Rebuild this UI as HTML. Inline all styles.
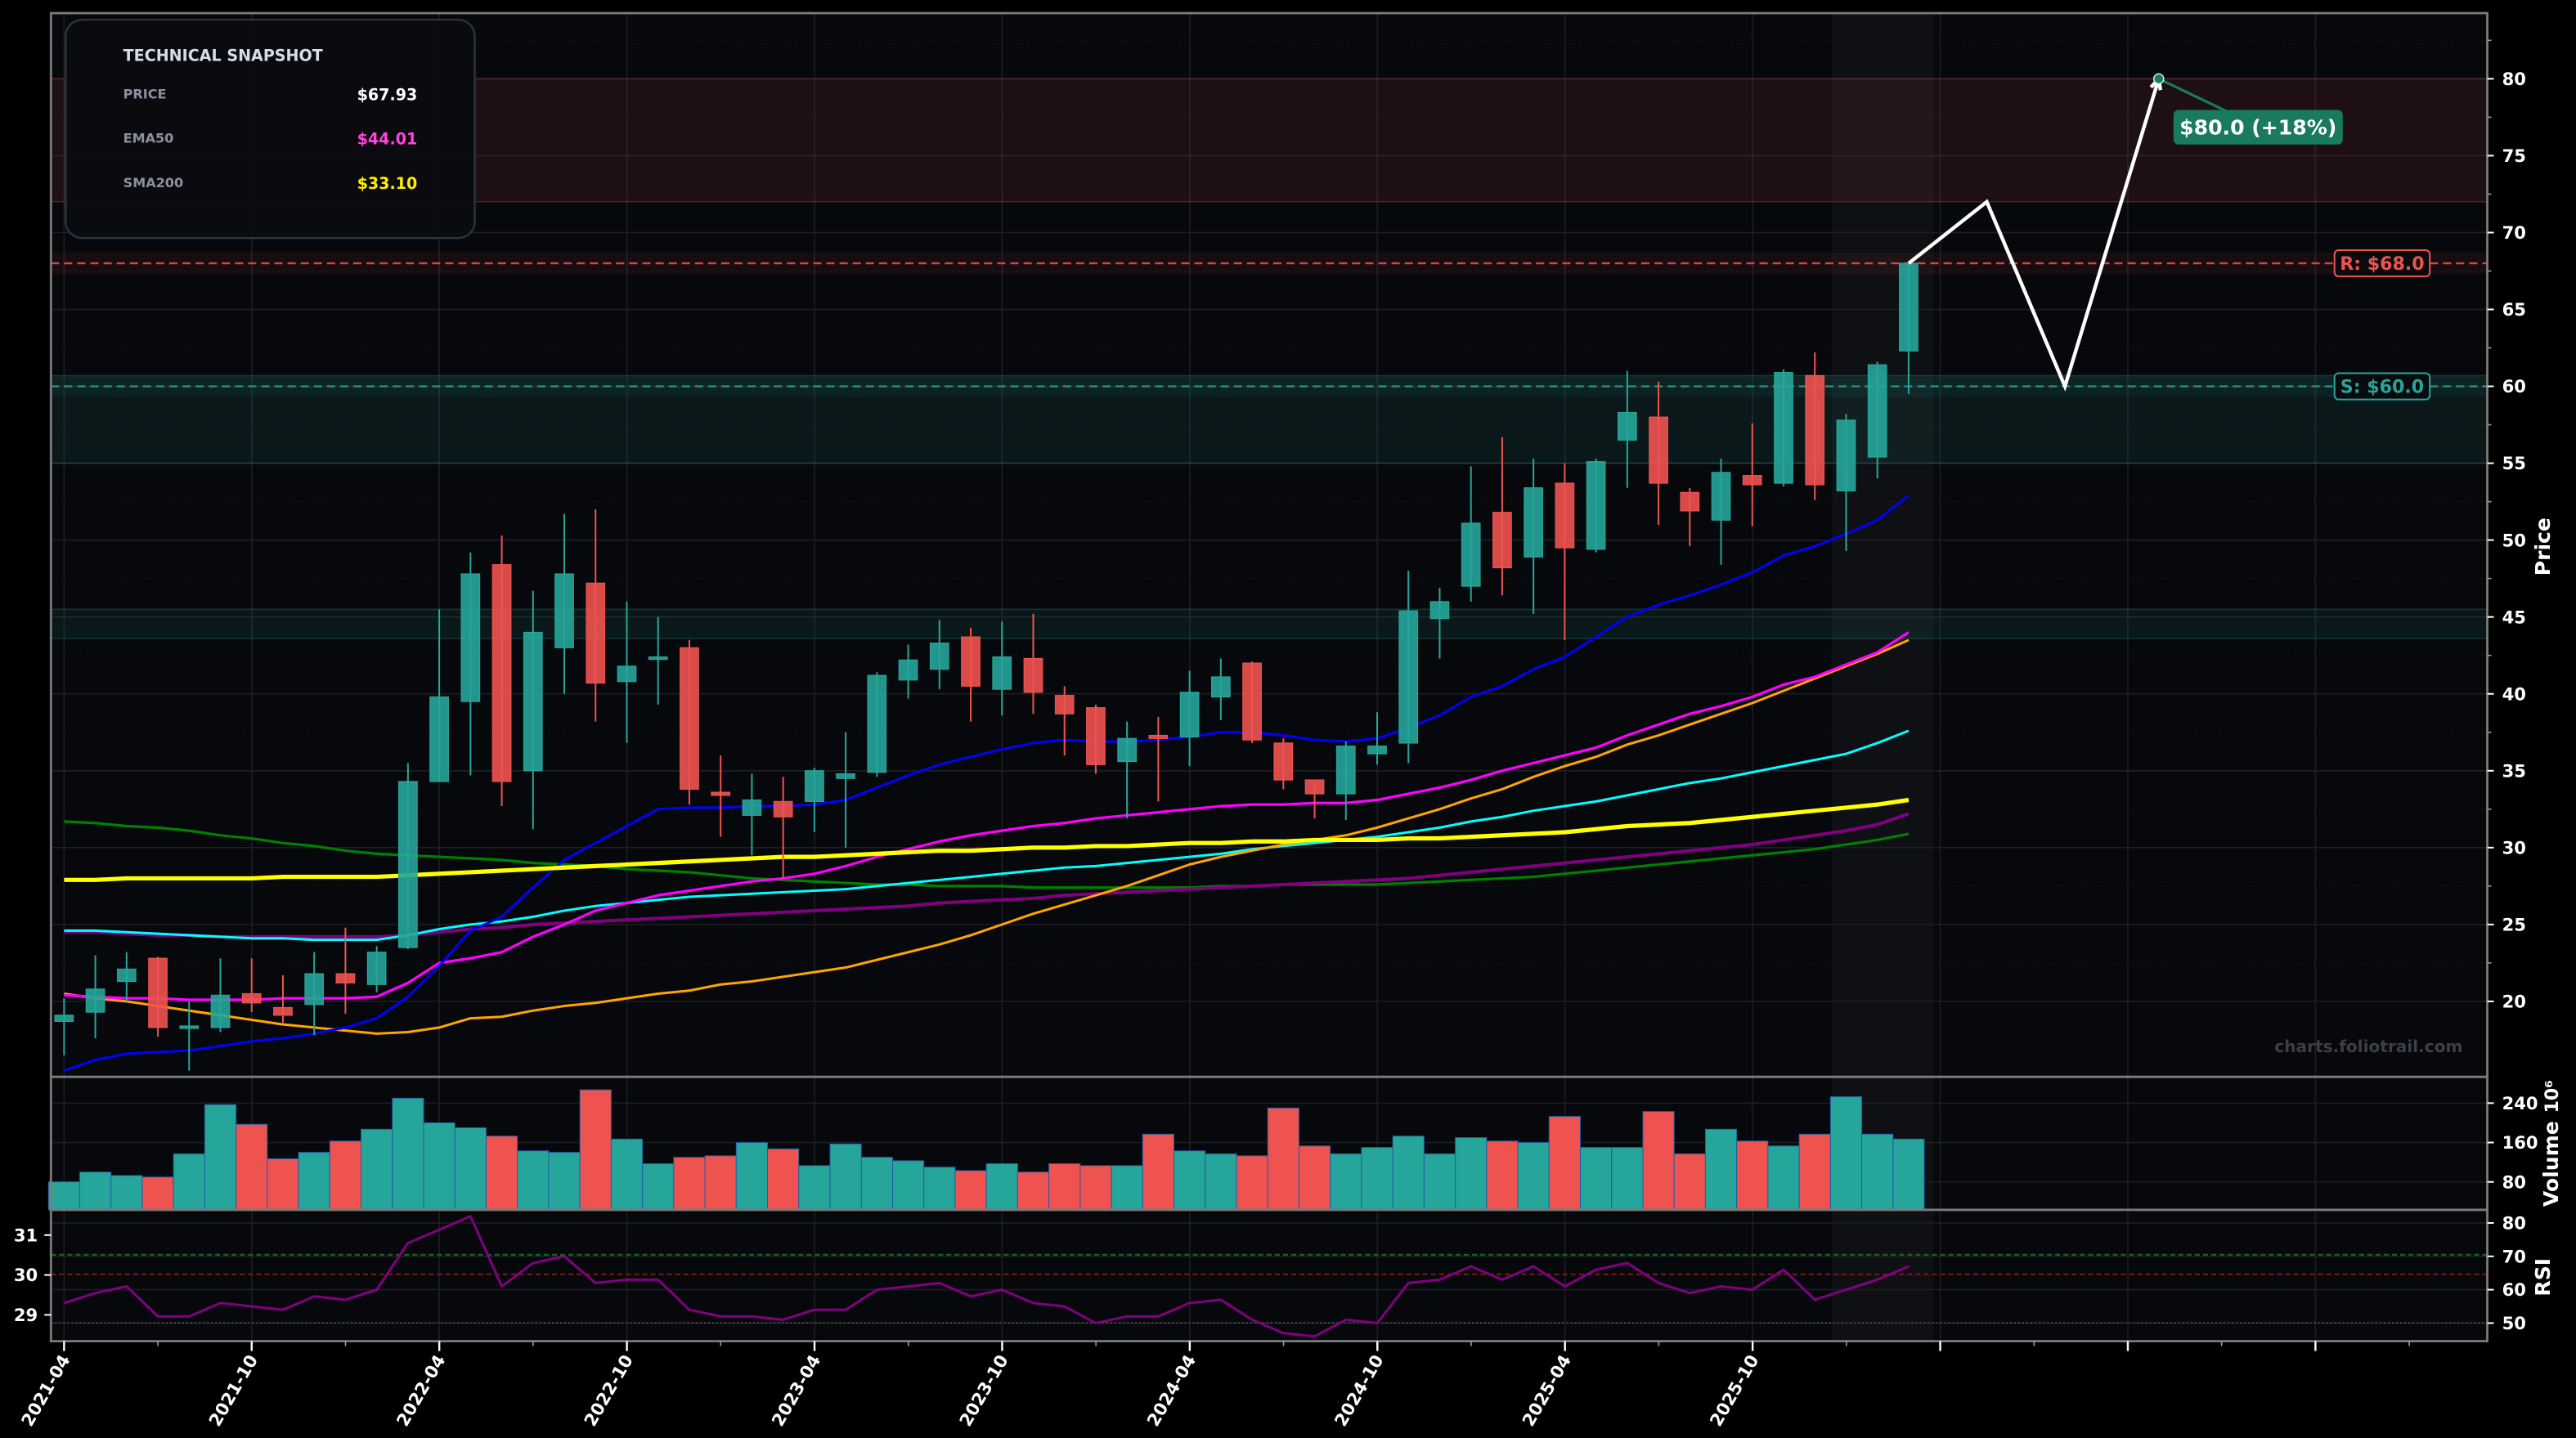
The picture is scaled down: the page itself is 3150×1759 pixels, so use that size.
<!DOCTYPE html>
<html><head><meta charset="utf-8"><title>Technical chart</title>
<style>
html,body{margin:0;padding:0;background:#000;}
svg{display:block;font-family:"DejaVu Sans","Liberation Sans",sans-serif;}
</style></head>
<body>
<svg id="chart" width="3150" height="1759" viewBox="0 0 1568 876" preserveAspectRatio="none" xmlns="http://www.w3.org/2000/svg">
<rect x="0" y="0" width="1568" height="876" fill="#000"/>
<g id="g-bg"></g>
<g id="g-grid"></g>
<g id="g-zones"></g>
<g id="g-ma"></g>
<g id="g-candles"></g>
<g id="g-vol"></g>
<g id="g-rsi"></g>
<g id="g-axes"></g>
<g id="g-over"></g>
</svg>
<script>
const dates = ["2021-04","2021-10","2022-04","2022-10","2023-04","2023-10","2024-04","2024-10","2025-04","2025-10"];
const priceTicks = [20,25,30,35,40,45,50,55,60,65,70,75,80];
const volTicks = [80,160,240];
const rsiTicks = [50,60,70,80];
const rsiLeftTicks = [29,30,31];
const opens  = [18.7,19.3,21.3,22.8,18.3,18.3,20.5,19.6,19.8,21.8,21.1,23.5,34.3,39.5,48.4,35.0,43.0,47.2,40.8,42.3,43.0,33.6,32.1,33.0,33.0,34.5,34.9,40.9,41.6,43.7,40.3,42.3,39.9,39.1,35.6,37.3,37.2,39.8,42.0,36.8,34.4,33.5,36.1,36.8,44.9,47.0,51.8,48.9,53.7,49.4,56.5,58.0,53.1,51.3,54.2,53.7,60.7,53.2,55.4,62.3];
const closes = [19.1,20.8,22.1,18.3,18.4,20.4,19.9,19.1,21.8,21.2,23.2,34.3,39.8,47.8,34.3,44.0,47.8,40.7,41.8,42.4,33.8,33.4,33.1,32.0,35.0,34.8,41.2,42.2,43.3,40.5,42.4,40.1,38.7,35.4,37.1,37.1,40.1,41.1,37.0,34.4,33.5,36.6,36.6,45.4,46.0,51.1,48.2,53.4,49.5,55.1,58.3,53.7,51.9,54.4,53.6,60.9,53.6,57.8,61.4,68.0];
const highs  = [20.2,23.0,23.2,22.9,20.0,22.8,22.8,21.7,23.2,24.8,23.6,35.5,45.5,49.2,50.3,46.7,51.7,52.0,46.0,45.0,43.5,36.0,34.8,34.6,35.2,37.5,41.4,43.2,44.8,44.3,44.7,45.2,40.5,39.3,38.2,38.5,41.5,42.3,42.1,37.1,34.4,36.9,38.8,48.0,46.9,54.8,56.7,55.3,55.0,55.3,61.0,60.3,53.4,55.3,57.6,61.1,62.2,58.2,61.6,68.0];
const lows   = [16.5,17.6,20.0,17.7,15.5,18.0,19.3,18.6,17.8,19.2,20.6,23.4,34.3,34.7,32.7,31.2,40.0,38.2,36.8,39.3,32.8,30.7,29.5,28.0,31.0,30.0,34.6,39.7,40.3,38.2,38.6,38.7,36.0,34.8,31.9,33.0,35.3,38.3,36.8,33.8,31.9,31.8,35.4,35.5,42.3,46.0,46.4,45.2,43.5,49.2,53.4,51.0,49.6,48.4,50.9,53.5,52.6,49.3,54.0,59.5];
const volumes = [80,100,93,90,137,237,197,127,140,163,187,250,200,190,173,143,140,267,167,117,130,133,160,147,113,157,130,123,110,103,117,100,117,113,113,177,143,137,133,230,153,137,150,173,137,170,163,160,213,150,150,223,137,187,163,153,177,253,177,167];
const rsiValues = [56,59,61,52,52,56,55,54,58,57,60,74,78,82,61,68,70,62,63,63,54,52,52,51,54,54,60,61,62,58,60,56,55,50,52,52,56,57,51,47,46,51,50,62,63,67,63,67,61,66,68,62,59,61,60,66,57,60,63,67];
const maBlue    = [15.5,16.2,16.6,16.7,16.8,17.1,17.4,17.6,17.9,18.3,18.9,20.3,22.3,24.6,25.5,27.4,29.2,30.3,31.4,32.5,32.6,32.6,32.7,32.7,32.8,33.1,33.9,34.7,35.4,35.9,36.4,36.8,37.0,36.9,36.9,37.0,37.2,37.5,37.5,37.3,37.0,36.9,37.1,37.8,38.6,39.8,40.5,41.6,42.4,43.7,45.0,45.8,46.4,47.1,47.9,49.0,49.6,50.4,51.3,52.9];
const maMagenta = [20.4,20.3,20.2,20.2,20.1,20.1,20.1,20.2,20.2,20.2,20.3,21.2,22.5,22.8,23.2,24.2,25.0,25.9,26.4,26.9,27.2,27.5,27.8,28.0,28.3,28.8,29.4,29.9,30.4,30.8,31.1,31.4,31.6,31.9,32.1,32.3,32.5,32.7,32.8,32.8,32.9,32.9,33.1,33.5,33.9,34.4,35.0,35.5,36.0,36.5,37.3,38.0,38.7,39.2,39.8,40.6,41.1,41.9,42.7,44.0];
const maOrange  = [20.5,20.2,20.0,19.7,19.4,19.1,18.8,18.5,18.3,18.1,17.9,18.0,18.3,18.9,19.0,19.4,19.7,19.9,20.2,20.5,20.7,21.1,21.3,21.6,21.9,22.2,22.7,23.2,23.7,24.3,25.0,25.7,26.3,26.9,27.5,28.2,28.9,29.4,29.8,30.2,30.5,30.8,31.3,31.9,32.5,33.2,33.8,34.6,35.3,35.9,36.7,37.3,38.0,38.7,39.4,40.2,41.0,41.8,42.6,43.5];
const maCyan    = [24.6,24.6,24.5,24.4,24.3,24.2,24.1,24.1,24.0,24.0,24.0,24.3,24.7,25.0,25.2,25.5,25.9,26.2,26.4,26.6,26.8,26.9,27.0,27.1,27.2,27.3,27.5,27.7,27.9,28.1,28.3,28.5,28.7,28.8,29.0,29.2,29.4,29.6,29.9,30.1,30.3,30.5,30.7,31.0,31.3,31.7,32.0,32.4,32.7,33.0,33.4,33.8,34.2,34.5,34.9,35.3,35.7,36.1,36.8,37.6];
const maYellow  = [27.9,27.9,28.0,28.0,28.0,28.0,28.0,28.1,28.1,28.1,28.1,28.2,28.3,28.4,28.5,28.6,28.7,28.8,28.9,29.0,29.1,29.2,29.3,29.4,29.4,29.5,29.6,29.7,29.8,29.8,29.9,30.0,30.0,30.1,30.1,30.2,30.3,30.3,30.4,30.4,30.5,30.5,30.5,30.6,30.6,30.7,30.8,30.9,31.0,31.2,31.4,31.5,31.6,31.8,32.0,32.2,32.4,32.6,32.8,33.1];
const maPurple  = [24.5,24.5,24.4,24.3,24.3,24.2,24.2,24.2,24.2,24.2,24.2,24.3,24.5,24.7,24.8,25.0,25.1,25.2,25.3,25.4,25.5,25.6,25.7,25.8,25.9,26.0,26.1,26.2,26.4,26.5,26.6,26.7,26.9,27.0,27.1,27.2,27.3,27.4,27.5,27.6,27.7,27.8,27.9,28.0,28.2,28.4,28.6,28.8,29.0,29.2,29.4,29.6,29.8,30.0,30.2,30.5,30.8,31.1,31.5,32.2];
const maGreen   = [31.7,31.6,31.4,31.3,31.1,30.8,30.6,30.3,30.1,29.8,29.6,29.5,29.4,29.3,29.2,29.0,28.9,28.8,28.6,28.5,28.4,28.2,28.0,27.9,27.8,27.7,27.6,27.6,27.5,27.5,27.5,27.4,27.4,27.4,27.4,27.4,27.4,27.5,27.5,27.6,27.6,27.6,27.6,27.7,27.8,27.9,28.0,28.1,28.3,28.5,28.7,28.9,29.1,29.3,29.5,29.7,29.9,30.2,30.5,30.9];
const forecastIdx = [59,61.5,64,67];
const forecastPx  = [68,72,60,80];
const snapshotLabels = ["PRICE","EMA50","SMA200"];
const snapshotValues = ["$67.93","$44.01","$33.10"];

const NS="http://www.w3.org/2000/svg";
const PL=31, PR=1514, PT=8, PB=656, VT=656, VB=737, RT=737, RB=817;
const xI = i => 39 + 19.03*i;
const yP = v => 48 + (80 - v)*9.367;
const yV = v => 744 - v*0.3;
const yR = v => 745 + (80 - v)*2.033;
const yRL = v => 776.7 - (v - 30)*24.3;
function mk(tag, attrs, parent, text){
  const e=document.createElementNS(NS,tag);
  for(const k in attrs) e.setAttribute(k,attrs[k]);
  if(text!==undefined) e.textContent=text;
  parent.appendChild(e); return e;
}
const G = id => document.getElementById(id);
const bg=G('g-bg'), grid=G('g-grid'), zones=G('g-zones'), gma=G('g-ma'), gc=G('g-candles'), gv=G('g-vol'), gr=G('g-rsi'), ax=G('g-axes'), ov=G('g-over');

[[PT,PB,'price-panel'],[VT,VB,'volume-panel'],[RT,RB,'rsi-panel']].forEach(p=>{
  const r=mk('rect',{x:PL,y:p[0],width:PR-PL,height:p[1]-p[0],fill:'#07080c'},bg);
  
  
});
const shade=mk('rect',{x:1115,y:PT,width:62,height:RB-PT,fill:'#ffffff','fill-opacity':0.035},bg);



priceTicks.forEach(v=>mk('line',{x1:PL,x2:PR,y1:yP(v),y2:yP(v),stroke:'#1c1e24','stroke-width':0.8},grid));
priceTicks.forEach(v=>mk('line',{x1:PL,x2:PR,y1:yP(v+2.5),y2:yP(v+2.5),stroke:'#15171c','stroke-width':0.5,'stroke-dasharray':'1,2'},grid));
volTicks.forEach(v=>mk('line',{x1:PL,x2:PR,y1:yV(v),y2:yV(v),stroke:'#1c1e24','stroke-width':0.8},grid));
rsiTicks.forEach(v=>mk('line',{x1:PL,x2:PR,y1:yR(v),y2:yR(v),stroke:'#1c1e24','stroke-width':0.8},grid));
for(let k=0;k<13;k++){
  const x=39+114.2*k;
  mk('line',{x1:x,x2:x,y1:PT,y2:RB,stroke:'#1c1e24','stroke-width':0.8},grid);
}

function zone(lo,hi,color,op,name){
  const r=mk('rect',{x:PL,y:yP(hi),width:PR-PL,height:yP(lo)-yP(hi),fill:color,'fill-opacity':op},zones);
  
  
  mk('line',{x1:PL,x2:PR,y1:yP(hi),y2:yP(hi),stroke:color,'stroke-opacity':0.25,'stroke-width':0.8},zones);
  mk('line',{x1:PL,x2:PR,y1:yP(lo),y2:yP(lo),stroke:color,'stroke-opacity':0.25,'stroke-width':0.8},zones);
}
zone(72,80,'#ef5350',0.1,'resistance-zone');
zone(55,60.7,'#26a69a',0.1,'support-zone');
zone(43.6,45.5,'#26a69a',0.1,'support-zone-2');
mk('rect',{x:PL,y:yP(68.7),width:PR-PL,height:yP(67.3)-yP(68.7),fill:'#ef5350','fill-opacity':0.07},zones);
mk('rect',{x:PL,y:yP(60.7),width:PR-PL,height:yP(59.3)-yP(60.7),fill:'#26a69a','fill-opacity':0.07},zones);
const rl=mk('line',{x1:PL,x2:PR,y1:yP(68),y2:yP(68),stroke:'#ef5350','stroke-width':1.2,'stroke-dasharray':'5,3','stroke-opacity':0.85},zones);


const sl=mk('line',{x1:PL,x2:PR,y1:yP(60),y2:yP(60),stroke:'#26a69a','stroke-width':1.2,'stroke-dasharray':'5,3','stroke-opacity':0.85},zones);



function maLine(arr,color,w,name){
  const d=arr.map((v,i)=>(i?'L':'M')+xI(i).toFixed(2)+','+yP(v).toFixed(2)).join(' ');
  const p=mk('path',{d:d,fill:'none',stroke:color,'stroke-width':w,'stroke-linejoin':'round'},gma);
  
  
}
maLine(maGreen,'#008000',1.6,'ma-green-line');
maLine(maPurple,'#800080',2,'ma-purple-line');
maLine(maCyan,'#00ffff',1.5,'ma-cyan-line');
maLine(maOrange,'#ffa500',1.5,'ma-orange-line');
maLine(maMagenta,'#ff00ff',1.6,'ema50-line');
maLine(maBlue,'#0000ff',1.5,'ma-blue-line');
maLine(maYellow,'#ffff00',2.6,'sma200-line');

opens.forEach((o,i)=>{
  const c=closes[i], up=c>=o, col=up?'#26a69a':'#ef5350';
  const x=xI(i);
  const g=mk('g',{},gc);
  
  
  mk('line',{x1:x,x2:x,y1:yP(highs[i]),y2:yP(lows[i]),stroke:col,'stroke-width':1},g);
  const top=yP(Math.max(o,c)), h=Math.max(1.5,Math.abs(yP(o)-yP(c)));
  mk('rect',{x:x-5.6,y:top,width:11.2,height:h,fill:col,'fill-opacity':0.9,stroke:col,'stroke-width':0.6},g);
});

volumes.forEach((v,i)=>{
  const up=closes[i]>=opens[i];
  const y=Math.max(VT+1,yV(v));
  const r=mk('rect',{x:xI(i)-9.5,y:y,width:19,height:VB-y,fill:up?'#26a69a':'#ef5350',stroke:'#1f5fa8','stroke-width':0.5},gv);
  
  
});

mk('line',{x1:PL,x2:PR,y1:764.4,y2:764.4,stroke:'#136b20','stroke-width':1,'stroke-dasharray':'3,2'},gr);
mk('line',{x1:PL,x2:PR,y1:776.3,y2:776.3,stroke:'#7a1818','stroke-width':1,'stroke-dasharray':'3,2'},gr);
mk('line',{x1:PL,x2:PR,y1:805.8,y2:805.8,stroke:'#555','stroke-width':0.8,'stroke-dasharray':'1,1.5'},gr);
{
  const d=rsiValues.map((v,i)=>(i?'L':'M')+xI(i).toFixed(2)+','+yR(v).toFixed(2)).join(' ');
  const p=mk('path',{d:d,fill:'none',stroke:'#800080','stroke-width':1.5,'stroke-linejoin':'round'},gr);
  
  
}

[[PT,PB],[VT,VB],[RT,RB]].forEach(p=>mk('rect',{x:PL,y:p[0],width:PR-PL,height:p[1]-p[0],fill:'none',stroke:'#7a7a7a','stroke-width':1.4},ax));
const tstyle={fill:'#fff','font-size':10.5,'font-weight':'bold'};
priceTicks.forEach(v=>{
  mk('line',{x1:PR,x2:PR+4,y1:yP(v),y2:yP(v),stroke:'#fff','stroke-width':1},ax);
  mk('line',{x1:PR,x2:PR+2.5,y1:yP(v+2.5),y2:yP(v+2.5),stroke:'#999','stroke-width':0.8},ax);
  const t=mk('text',Object.assign({x:PR+9,y:yP(v)+3.8},tstyle),ax,String(v));
  
  
});
volTicks.forEach(v=>{
  mk('line',{x1:PR,x2:PR+4,y1:yV(v),y2:yV(v),stroke:'#fff','stroke-width':1},ax);
  const t=mk('text',Object.assign({x:PR+9,y:yV(v)+3.8},tstyle),ax,String(v));
  
  
});
rsiTicks.forEach(v=>{
  mk('line',{x1:PR,x2:PR+4,y1:yR(v),y2:yR(v),stroke:'#fff','stroke-width':1},ax);
  const t=mk('text',Object.assign({x:PR+9,y:yR(v)+3.8},tstyle),ax,String(v));
  
  
});
rsiLeftTicks.forEach(v=>{
  mk('line',{x1:PL-4,x2:PL,y1:yRL(v),y2:yRL(v),stroke:'#fff','stroke-width':1},ax);
  const t=mk('text',Object.assign({x:PL-8,y:yRL(v)+3.8,'text-anchor':'end'},tstyle),ax,String(v));
  
  
});
for(let k=0;k<13;k++){
  const x=39+114.2*k;
  mk('line',{x1:x,x2:x,y1:RB,y2:RB+6,stroke:'#fff','stroke-width':1.2},ax);
  mk('line',{x1:x+57.1,x2:x+57.1,y1:RB,y2:RB+3,stroke:'#999','stroke-width':0.8},ax);
  if(k<dates.length){
    const t=mk('text',Object.assign({x:x+4,y:828,'text-anchor':'end',transform:'rotate(-60 '+(x+4)+' 828)'},tstyle),ax,dates[k]);
    
    
  }
}
function rotLabel(txt,x,y,name){
  const t=mk('text',{x:x,y:y,fill:'#fff','font-size':12.5,'font-weight':'bold','text-anchor':'middle',transform:'rotate(-90 '+x+' '+y+')'},ax,txt);
  
  
}
rotLabel('Price',1552,333,'price-axis-title');
rotLabel('Volume',1557,709,'volume-axis-title');
rotLabel('RSI',1552,778,'rsi-axis-title');
{
  const t=mk('text',{x:1557,y:668,fill:'#fff','font-size':11,'font-weight':'bold','text-anchor':'middle',transform:'rotate(-90 1557 668)'},ax,'10⁶');
  
  
}

{
  const d=forecastIdx.map((v,i)=>(i?'L':'M')+xI(v).toFixed(2)+','+yP(forecastPx[i]).toFixed(2)).join(' ');
  const p=mk('path',{d:d,fill:'none',stroke:'#fff','stroke-width':2.2,'stroke-linejoin':'miter'},ov);
  
  
  const n=forecastIdx.length, x1=xI(forecastIdx[n-1]), y1=yP(forecastPx[n-1]), x0=xI(forecastIdx[n-2]), y0=yP(forecastPx[n-2]);
  const a=Math.atan2(y1-y0,x1-x0), L=7;
  const ah=mk('path',{d:`M${x1-L*Math.cos(a-0.45)},${y1-L*Math.sin(a-0.45)} L${x1},${y1} L${x1-L*Math.cos(a+0.45)},${y1-L*Math.sin(a+0.45)}`,fill:'none',stroke:'#fff','stroke-width':2.2},ov);
  
  
  mk('line',{x1:x1,y1:y1,x2:1360,y2:70,stroke:'#1a7a5e','stroke-width':1.6},ov);
  const c=mk('circle',{cx:x1,cy:y1,r:3,fill:'#1a7a5e',stroke:'#cfe','stroke-width':0.7},ov);
  
  
  const b=mk('g',{},ov);
  
  
  mk('rect',{x:1323,y:67,width:103,height:21,rx:3,fill:'#1a7a5e'},b);
  mk('text',{x:1374.5,y:82,fill:'#fff','font-size':12.5,'font-weight':'bold','text-anchor':'middle'},b,'$80.0 (+18%)');
}
function lvlLabel(txt,v,col,name){
  const g=mk('g',{},ov);
  
  
  mk('rect',{x:1421,y:yP(v)-8,width:58,height:16,rx:2.5,fill:'#0a0b0f',stroke:col,'stroke-width':1},g);
  mk('text',{x:1450,y:yP(v)+4,fill:col,'font-size':11,'font-weight':'bold','text-anchor':'middle'},g,txt);
}
lvlLabel('R: $68.0',68,'#ef5350','resistance-label');
lvlLabel('S: $60.0',60,'#26a69a','support-label');
{
  const t=mk('text',{x:1499,y:641,fill:'#3c3f47','font-size':10,'font-weight':'bold','text-anchor':'end'},ov,'charts.foliotrail.com');
  
  
}
{
  const g=mk('g',{},ov);
  
  
  mk('rect',{x:40,y:12,width:249,height:133,rx:10,fill:'#0a0b10','fill-opacity':0.97,stroke:'#2c3340','stroke-width':1.2},g);
  mk('text',{x:75,y:37,fill:'#d8dde8','font-size':9.5,'font-weight':'bold'},g,'TECHNICAL SNAPSHOT');
  const cols=['#ffffff','#ff44dd','#ffee00'];
  snapshotLabels.forEach((l,i)=>{
    const y=60+27*i;
    mk('text',{x:75,y:y,fill:'#8a90a0','font-size':8,'font-weight':'bold'},g,l);
    mk('text',{x:254,y:y+1,fill:cols[i],'font-size':9.5,'font-weight':'bold','text-anchor':'end'},g,snapshotValues[i]);
  });
}
</script>
</body></html>
